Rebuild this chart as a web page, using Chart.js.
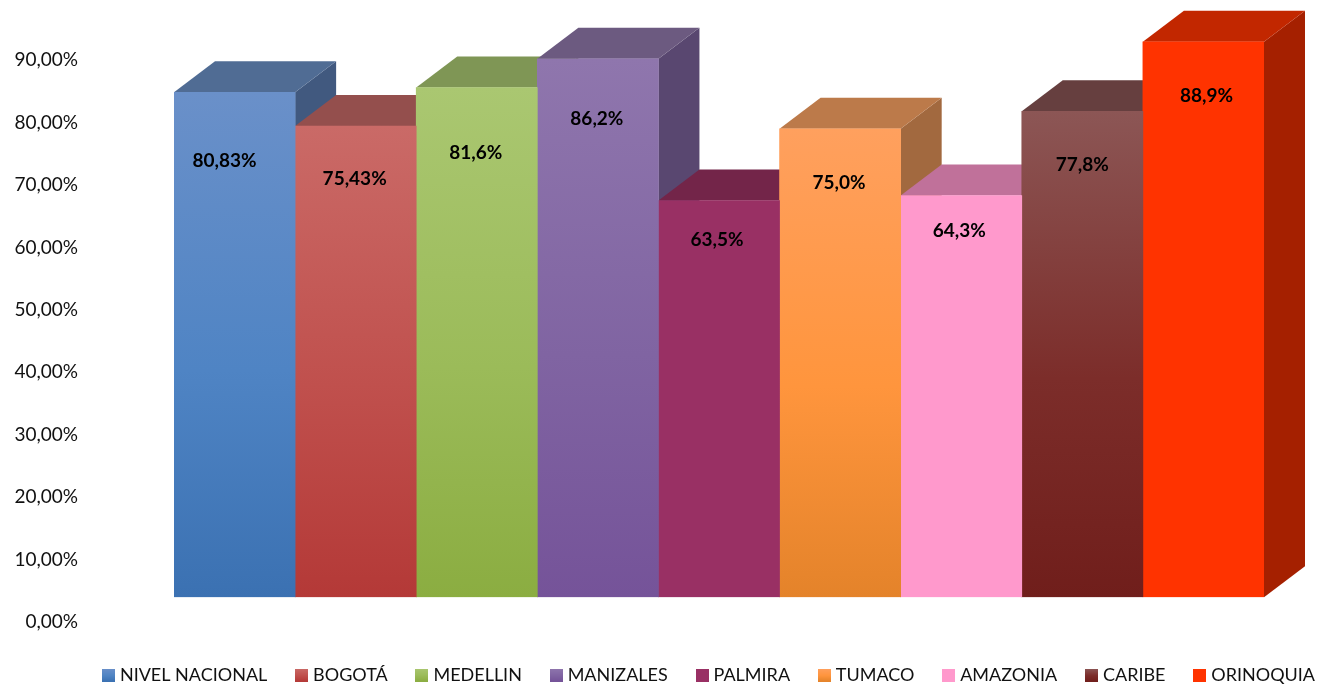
<!DOCTYPE html>
<html>
<head>
<meta charset="utf-8">
<style>
html, body { margin: 0; padding: 0; background: #fff; overflow: hidden; }
canvas { display: block; }
</style>
<script src="https://cdn.jsdelivr.net/npm/chart.js@4"></script>
</head>
<body>
<canvas id="chart" width="1319" height="694"></canvas>
<script>
// Data
const categories = ['NIVEL NACIONAL', 'BOGOTÁ', 'MEDELLIN', 'MANIZALES', 'PALMIRA', 'TUMACO', 'AMAZONIA', 'CARIBE', 'ORINOQUIA'];
const values = [80.83, 75.43, 81.6, 86.2, 63.5, 75.0, 64.3, 77.8, 88.9];
const valueLabels = ['80,83%', '75,43%', '81,6%', '86,2%', '63,5%', '75,0%', '64,3%', '77,8%', '88,9%'];

// Colours: front gradient (top, middle, bottom), top face, side face
const frontTop = ['#6A90C9', '#CA6A67', '#AAC771', '#8F76AD', '#993064', '#FFA05E', '#FF99CC', '#8C5655', '#FF3300'];
const frontMid = ['#4F84C4', '#C0504D', '#9BBB59', '#8064A2', '#993064', '#FF953D', '#FF99CC', '#7C2D2A', '#FF3300'];
const frontBottom = ['#3B71B2', '#B43937', '#8BAD41', '#755399', '#993064', '#E4832A', '#FF99CC', '#701E1B', '#FF3300'];
const topColors = ['#506C94', '#944F4D', '#7F9655', '#6C5A80', '#732549', '#BC7A4A', '#C0719A', '#663F3F', '#C22700'];
const sideColors = ['#41597F', '#7F3B39', '#6E8446', '#594770', '#5F1D3D', '#A2693F', '#A5608A', '#552F2F', '#A52000'];

// Hand placed label nudges, px from the bar centre / bar top (the original has them moved by hand)
const labelDx = [-10, -1, -1, -1, -2, -1, -2, 0, 3];
const labelDy = [69, 53, 65, 60, 39, 54, 35, 54, 54];

const depthX = 41;
const depthY = 31;
const fontName = 'Lato, "Open Sans", sans-serif';

function addStops(grad, i) {
    grad.addColorStop(0, frontTop[i]);
    grad.addColorStop(0.55, frontMid[i]);
    grad.addColorStop(1, frontBottom[i]);
    return grad;
}

// Small gradient square for the legend
function legendSwatch(i) {
    const c = document.createElement('canvas');
    c.width = 13;
    c.height = 13;
    const g = c.getContext('2d');
    g.fillStyle = addStops(g.createLinearGradient(0, 0, 0, 13), i);
    g.fillRect(0, 0, 13, 13);
    return c;
}

// Draws the top and side of each column behind the fronts
const depthPlugin = {
    id: 'depth',
    beforeDatasetsDraw(chart) {
        const ctx = chart.ctx;
        chart.data.datasets.forEach((ds, i) => {
            const bar = chart.getDatasetMeta(i).data[0];
            const left = bar.x - bar.width / 2;
            const right = bar.x + bar.width / 2;
            ctx.fillStyle = sideColors[i];
            ctx.beginPath();
            ctx.moveTo(right, bar.y);
            ctx.lineTo(right + depthX, bar.y - depthY);
            ctx.lineTo(right + depthX, bar.base - depthY);
            ctx.lineTo(right, bar.base);
            ctx.closePath();
            ctx.fill();
            ctx.fillStyle = topColors[i];
            ctx.beginPath();
            ctx.moveTo(left, bar.y);
            ctx.lineTo(left + depthX, bar.y - depthY);
            ctx.lineTo(right + depthX, bar.y - depthY);
            ctx.lineTo(right, bar.y);
            ctx.closePath();
            ctx.fill();
        });
    },
    afterDatasetsDraw(chart) {
        const ctx = chart.ctx;
        ctx.save();
        ctx.font = 'bold 19px ' + fontName;
        ctx.fillStyle = '#000';
        ctx.textAlign = 'center';
        ctx.textBaseline = 'middle';
        chart.data.datasets.forEach((ds, i) => {
            const bar = chart.getDatasetMeta(i).data[0];
            ctx.fillText(valueLabels[i], bar.x + labelDx[i], bar.y + labelDy[i]);
        });
        ctx.restore();
    }
};

new Chart(document.getElementById('chart').getContext('2d'), {
    type: 'bar',
    data: {
        labels: [''],
        datasets: categories.map((name, i) => ({
            label: name,
            data: [values[i]],
            backgroundColor: function (context) {
                const chart = context.chart;
                const y = chart.scales.y;
                return addStops(chart.ctx.createLinearGradient(0, y.getPixelForValue(values[i]), 0, y.getPixelForValue(0)), i);
            }
        }))
    },
    options: {
        responsive: false,
        animation: false,
        layout: { padding: { top: 35, right: -27.75, left: 0, bottom: 0 } },
        datasets: { bar: { categoryPercentage: 1, barPercentage: 1 } },
        plugins: {
            tooltip: { enabled: false },
            legend: {
                position: 'bottom',
                align: 'end',
                labels: {
                    usePointStyle: true,
                    pointStyleWidth: 5,
                    padding: 31.75,
                    color: '#111',
                    font: { family: fontName, size: 18 },
                    generateLabels: chart => categories.map((name, i) => ({
                        text: name,
                        pointStyle: legendSwatch(i),
                        datasetIndex: i,
                        lineWidth: 0,
                        fontColor: '#111'
                    }))
                }
            }
        },
        scales: {
            x: {
                grid: { display: false, drawTicks: false },
                border: { display: false },
                ticks: { display: false },
                afterFit: scale => { scale.height = 37; }
            },
            y: {
                min: 0,
                max: 90,
                grid: { display: false, drawTicks: false },
                border: { display: false },
                ticks: {
                    stepSize: 10,
                    padding: 96,
                    labelOffset: 25,
                    color: '#111',
                    font: { family: fontName, size: 19 },
                    callback: value => value.toFixed(2).replace('.', ',') + '%'
                },
                afterFit: scale => {
                    scale.width = 174;
                    scale.paddingTop = 0;
                    scale.paddingBottom = 0;
                }
            },
            // Empty axis, keeps room on the right for the column depth
            depthRoom: {
                axis: 'y',
                position: 'right',
                grid: { display: false, drawTicks: false },
                border: { display: false },
                ticks: { display: false },
                afterFit: scale => {
                    scale.width = 82.75;
                    scale.paddingTop = 0;
                    scale.paddingBottom = 0;
                }
            }
        }
    },
    plugins: [depthPlugin]
});
</script>
</body>
</html>
